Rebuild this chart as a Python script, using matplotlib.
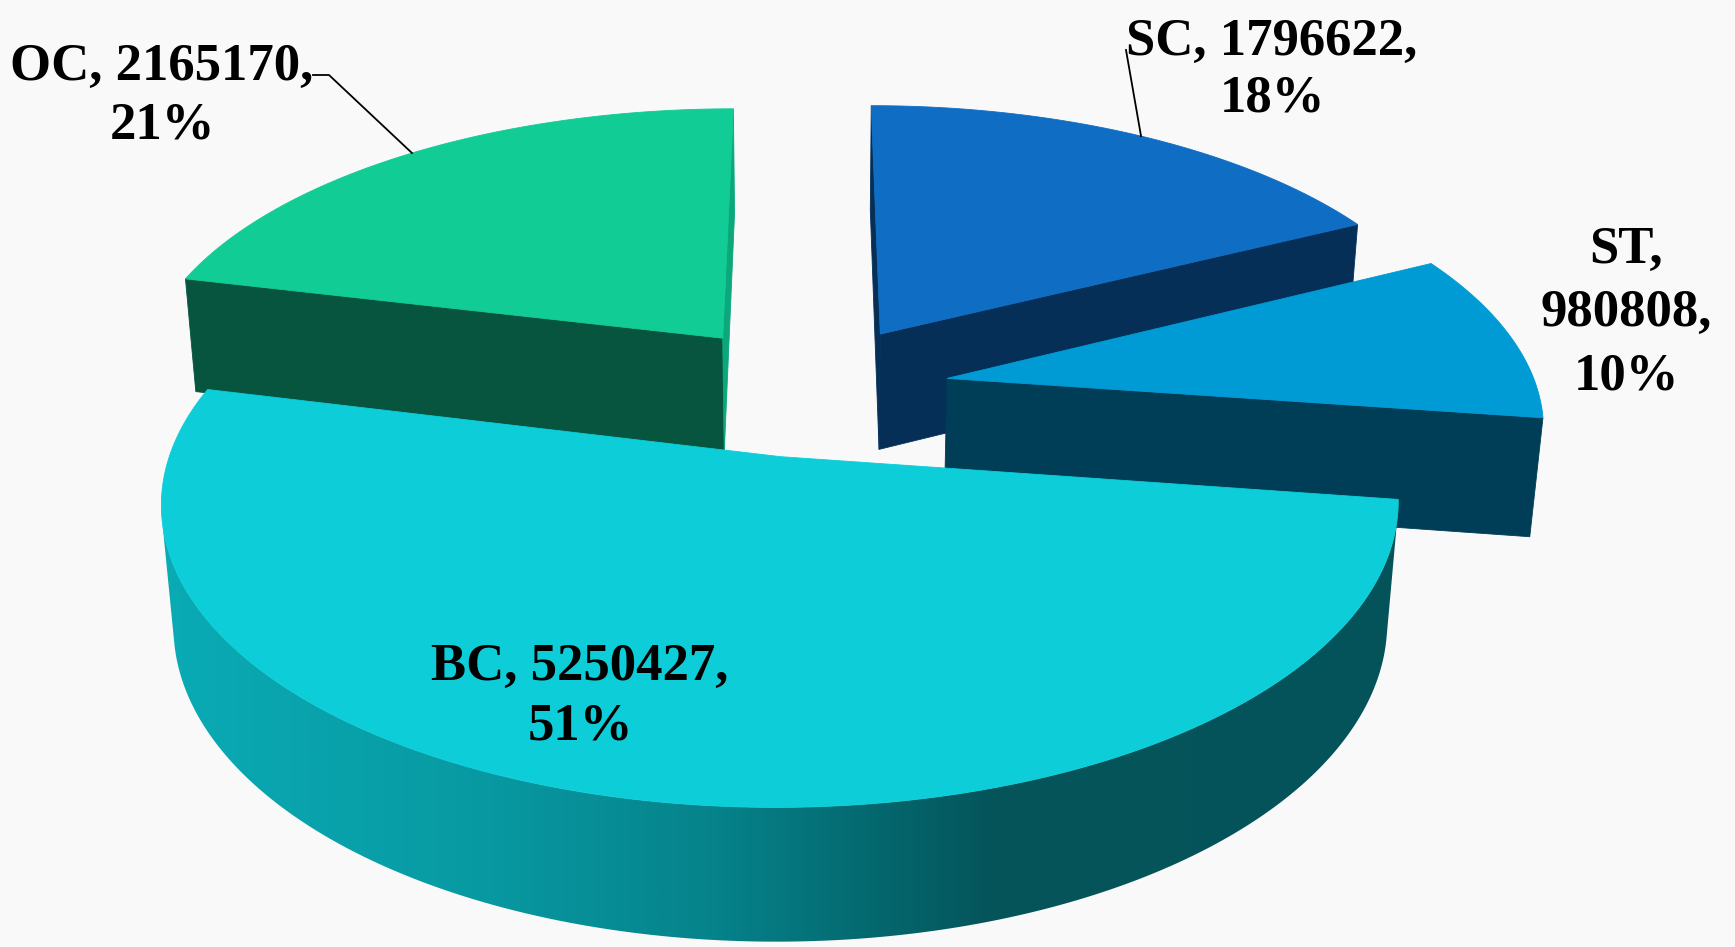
import numpy as np
import matplotlib
matplotlib.use("Agg")
import matplotlib.pyplot as plt
from matplotlib.patches import Polygon
from matplotlib.colors import LinearSegmentedColormap

# ---------------- data ----------------
categories = ["SC", "ST", "BC", "OC"]
values = [1796622, 980808, 5250427, 2165170]
percent_labels = ["18%", "10%", "51%", "21%"]

# ---------------- style ----------------
top_colors = ["#0f6ec3", "#009bd5", "#0ccdd8", "#11cc95"]
wall_colors = ["#062f57", "#003d56", "#04545a", "#07553f"]
start_face_colors = ["#062f57", "#003d56", "#04545a", "#07553f"]
end_face_colors = ["#062f57", "#003d56", "#04545a", "#0aa87a"]
bc_wall_cmap = LinearSegmentedColormap.from_list(
    "bcwall", [(0.0, "#0aabb5"), (0.25, "#089aa3"), (0.45, "#06828a"),
               (0.67, "#04555b"), (1.0, "#04535a")])
BG = "#f9f9f9"

W, H = 1735, 947
fig = plt.figure(figsize=(W / 100, H / 100), dpi=100, facecolor=BG)
ax = fig.add_axes([0, 0, 1, 1])
ax.set_facecolor(BG)
ax.axis("off")

# camera / layout parameters (pixel space)
K = 590.0          # horizontal scale of radius at centre depth
D = 6.0            # camera distance (radius units)
theta = np.radians(28.0)
st, ct = np.sin(theta), np.cos(theta)
cx, cy = 808.0, 389.0
explode = 0.24
thick = 0.23
cam = np.array([0.0, -D * ct, D * st])


def proj(X, Y, Z):
    X = np.asarray(X, float); Y = np.asarray(Y, float); Z = np.asarray(Z, float)
    depth = D + Y * ct - Z * st
    sx = K * D * X / depth
    sy = K * D * (Y * st + Z * ct) / depth
    return cx + sx, cy - sy


def poly(xs, ys, color, z, lw=0.6):
    p = Polygon(np.column_stack([xs, ys]), closed=True, facecolor=color,
                edgecolor=color, lw=lw, zorder=z, antialiased=True)
    ax.add_patch(p)
    return p


total = float(sum(values))
fracs = [v / total for v in values]
starts = np.cumsum([0] + fracs[:-1]) * 360.0
ends = np.cumsum(fracs) * 360.0

slices = []
for i in range(len(values)):
    p1, p2 = starts[i], ends[i]
    mid = np.radians((p1 + p2) / 2)
    ox, oy = explode * np.sin(mid), explode * np.cos(mid)
    slices.append((i, p1, p2, ox, oy))

# painter's order: farthest (largest oy) first
order = sorted(slices, key=lambda s: -s[4])
z = 1
for (i, p1, p2, ox, oy) in order:
    apex = np.array([ox, oy, 0.0])
    # radial faces
    for ang, ndir, col in ((p1, p1 - 90, start_face_colors[i]),
                           (p2, p2 + 90, end_face_colors[i])):
        n = np.array([np.sin(np.radians(ndir)), np.cos(np.radians(ndir)), 0])
        if np.dot(n, cam - apex) > 0:
            a = np.radians(ang)
            rx, ry = ox + np.sin(a), oy + np.cos(a)
            X = [ox, rx, rx, ox]
            Y = [oy, ry, ry, oy]
            Zs = [0, 0, -thick, -thick]
            px, py = proj(X, Y, Zs)
            poly(px, py, col, z)
            z += 1
    # curved wall
    phis = np.radians(np.linspace(p1, p2, 600))
    Px = ox + np.sin(phis)
    Py = oy + np.cos(phis)
    vis = np.sin(phis) * (cam[0] - Px) + np.cos(phis) * (cam[1] - Py) > 0
    idx = np.where(vis)[0]
    if len(idx):
        runs = np.split(idx, np.where(np.diff(idx) > 1)[0] + 1)
        for r in runs:
            if len(r) < 2:
                continue
            tx, ty = proj(Px[r], Py[r], np.zeros(len(r)))
            bx, by = proj(Px[r], Py[r], -thick * np.ones(len(r)))
            xs = np.concatenate([tx, bx[::-1]])
            ys = np.concatenate([ty, by[::-1]])
            if categories[i] == "BC":
                patch = Polygon(np.column_stack([xs, ys]), closed=True,
                                facecolor="none", edgecolor="none", zorder=z)
                ax.add_patch(patch)
                grad = np.linspace(0, 1, 512)[None, :]
                im = ax.imshow(grad, extent=(xs.min(), xs.max(), ys.max(), ys.min()),
                               cmap=bc_wall_cmap, aspect="auto", zorder=z,
                               interpolation="bilinear")
                im.set_clip_path(patch)
            else:
                poly(xs, ys, wall_colors[i], z)
            z += 1
    # top face
    tphi = np.radians(np.linspace(p1, p2, 600))
    X = np.concatenate([[ox], ox + np.sin(tphi)])
    Y = np.concatenate([[oy], oy + np.cos(tphi)])
    px, py = proj(X, Y, np.zeros(len(X)))
    poly(px, py, top_colors[i], z)
    z += 1

# ---------------- labels ----------------
font = dict(family=["Liberation Serif", "DejaVu Serif"], fontweight="bold",
            fontsize=38, color="black")

label_lines = {
    "SC": [f"SC, {values[0]},", percent_labels[0]],
    "ST": ["ST,", f"{values[1]},", percent_labels[1]],
    "BC": [f"BC, {values[2]},", percent_labels[2]],
    "OC": [f"OC, {values[3]},", percent_labels[3]],
}
label_pos = {  # centre x, first baseline y, line step
    "SC": (1272, 55, 56),
    "ST": (1626, 263, 63),
    "BC": (580, 680, 59),
    "OC": (162, 80, 58),
}
for name, lines in label_lines.items():
    x0, y0, dy = label_pos[name]
    for k, line in enumerate(lines):
        ax.text(x0, y0 + k * dy, line, ha="center", va="baseline",
                zorder=100, **font)


def rim_mid(i):
    _, p1, p2, ox, oy = slices[i]
    m = np.radians((p1 + p2) / 2)
    return proj(ox + np.sin(m), oy + np.cos(m), 0.0)

# leader lines (OC and SC)
ex, ey = rim_mid(3)
ax.plot([313, 329, float(ex)], [75, 75, float(ey)], color="black", lw=1.3, zorder=99)
ex, ey = rim_mid(0)
ax.plot([1126, float(ex)], [50, float(ey)], color="black", lw=1.3, zorder=99)

ax.set_xlim(0, W)
ax.set_ylim(H, 0)
fig.savefig("out.png", dpi=100, facecolor=BG)
